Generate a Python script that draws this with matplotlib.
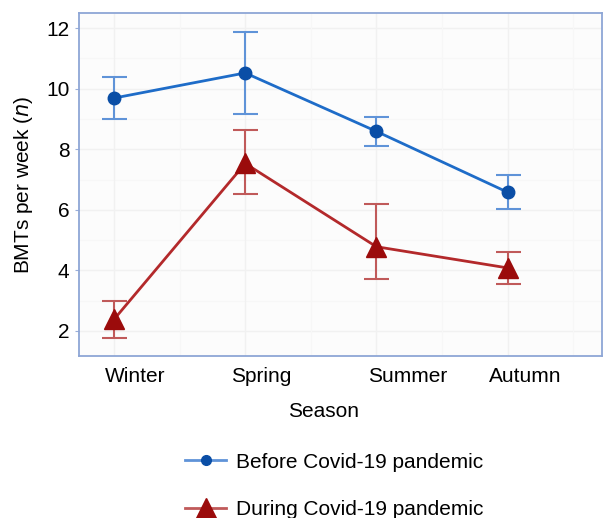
import matplotlib
matplotlib.use("Agg")
import matplotlib.pyplot as plt
import matplotlib.transforms as mtransforms
from matplotlib.lines import Line2D

plt.rcParams['font.family'] = ['Liberation Sans', 'DejaVu Sans']

seasons = ["Winter", "Spring", "Summer", "Autumn"]
before_mean = [9.69, 10.52, 8.59, 6.58]
before_low = [9.01, 9.15, 8.10, 6.01]
before_high = [10.37, 11.87, 9.08, 7.16]
during_mean = [2.38, 7.53, 4.78, 4.08]
during_low = [1.77, 6.53, 3.71, 3.55]
during_high = [3.00, 8.65, 6.20, 4.62]
yticks = [2, 4, 6, 8, 10, 12]

fig = plt.figure(figsize=(6.03, 5.18), dpi=100)
ax = fig.add_axes([79/603, 1-356/518, (602-79)/603, (356-13)/518])
ax.set_facecolor('#fcfcfc')

x = list(range(len(seasons)))

def err(mean, low, high):
    return [[m - l for m, l in zip(mean, low)], [h - m for m, h in zip(mean, high)]]

# grid
for v in yticks:
    ax.axhline(v, color='#f1f1f1', lw=1, zorder=0)
for v in [1, 3, 5, 7, 9, 11]:
    ax.axhline(v, color='#f7f7f7', lw=0.8, zorder=0)
for xi in x:
    ax.axvline(xi, color='#f1f1f1', lw=1, zorder=0)
    ax.axvline(xi + 0.5, color='#f7f7f7', lw=0.8, zorder=0)

ax.errorbar(x, before_mean, yerr=err(before_mean, before_low, before_high), fmt='none',
            ecolor='#5f93d8', elinewidth=1.5, capsize=9, capthick=1.5, zorder=2)
ax.plot(x, before_mean, color='#1e6cc8', lw=2, marker='o', ms=9,
        mfc='#0a4ea6', mec='#0a4ea6', zorder=3)

ax.errorbar(x, during_mean, yerr=err(during_mean, during_low, during_high), fmt='none',
            ecolor='#c05a5a', elinewidth=1.5, capsize=9, capthick=1.5, zorder=2)
ax.plot(x, during_mean, color='#b3292b', lw=2, marker='^', ms=15,
        mfc='#9b0b0b', mec='#9b0b0b', zorder=3)

ax.set_xlim(-0.267, 3.72)
ax.set_ylim(1.17, 12.5)
ax.set_yticks(yticks)
ax.set_yticklabels([str(v) for v in yticks], fontsize=15)
ax.set_xticks(x)
ax.set_xticklabels(seasons, fontsize=15)
ax.tick_params(axis='x', length=0, pad=8)
ax.tick_params(axis='y', length=3, width=0.8, color='#9aaed8', pad=4)

label_shift = [21, 16, 31, 18]
for lab, dx in zip(ax.get_xticklabels(), label_shift):
    lab.set_transform(lab.get_transform() + mtransforms.ScaledTranslation(dx/100, 0, fig.dpi_scale_trans))

for s in ax.spines.values():
    s.set_color('#8ea6d6')
    s.set_linewidth(1.3)

ax.set_xlabel("Season", fontsize=15)
ax.set_ylabel("BMTs per week ($\\it{n}$)", fontsize=15, labelpad=8)
ax.xaxis.set_label_coords((324 - 79) / (602 - 79), -46 / 343)

handles = [
    Line2D([], [], color='#5f93d8', lw=2, marker='o', ms=7, mfc='#0a4ea6', mec='#0a4ea6'),
    Line2D([], [], color='#c05a5a', lw=2, marker='^', ms=15, mfc='#9b0b0b', mec='#9b0b0b'),
]
fig.legend(handles, ["Before Covid-19 pandemic", "During Covid-19 pandemic"],
           loc='upper left', bbox_to_anchor=(166/603, 1-434/518), frameon=False,
           fontsize=15, handlelength=2.0, handletextpad=0.45, labelspacing=1.35)

fig.savefig("out.png", dpi=100)
